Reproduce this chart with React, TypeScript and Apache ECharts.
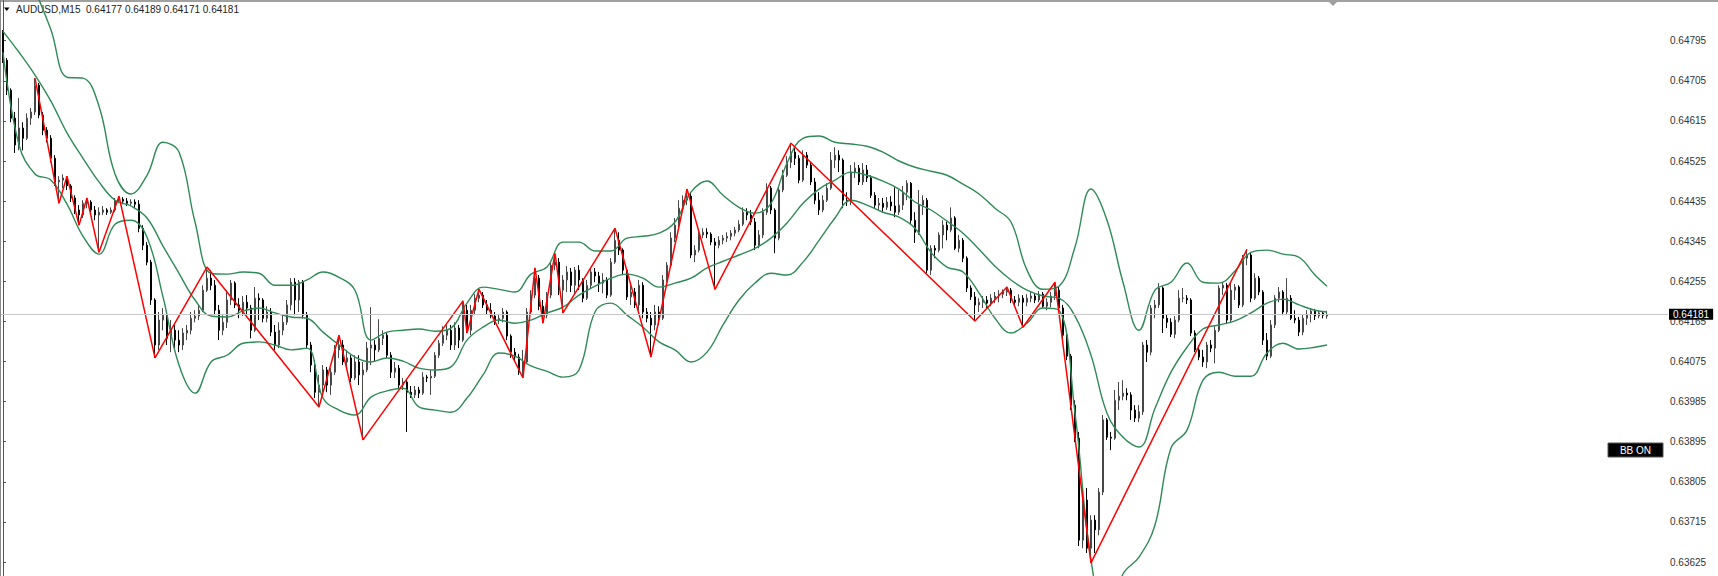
import React, { useEffect, useRef } from "react";
import * as echarts from "echarts";

const symbolTitle = "AUDUSD,M15";
const lastQuote = [0.64177, 0.64189, 0.64171, 0.64181];
const currentPrice = 0.64181;
const yTickStart = 0.63535;
const yTickStep = 0.0009;
const yMax = 0.64885;

const opens = [
0.64812,0.64751,0.64684,0.64621,0.64561,0.64599,0.64576,0.64621,0.64635,0.64695,
0.64628,0.64594,0.64576,0.64531,0.64478,0.64482,0.64487,0.64469,0.64442,0.64415,
0.64404,0.64430,0.64433,0.64415,0.64404,0.64410,0.64415,0.64410,0.64415,0.64437,
0.64439,0.64435,0.64430,0.64433,0.64428,0.64374,0.64336,0.64298,0.64213,0.64112,
0.64168,0.64179,0.64127,0.64145,0.64123,0.64112,0.64139,0.64145,0.64172,0.64177,
0.64190,0.64235,0.64262,0.64246,0.64190,0.64145,0.64163,0.64213,0.64251,0.64202,
0.64190,0.64208,0.64195,0.64145,0.64217,0.64213,0.64172,0.64186,0.64141,0.64112,
0.64145,0.64163,0.64202,0.64253,0.64213,0.64253,0.64179,0.64112,0.64067,0.64006,
0.64022,0.64056,0.64022,0.64051,0.64101,0.64112,0.64074,0.64083,0.64038,0.64074,
0.64045,0.64056,0.64105,0.64112,0.64101,0.64127,0.64134,0.64089,0.64051,0.64060,
0.64022,0.64029,0.64006,0.64000,0.64011,0.64004,0.64040,0.64038,0.64042,0.64089,
0.64116,0.64134,0.64145,0.64112,0.64150,0.64123,0.64190,0.64145,0.64190,0.64217,
0.64224,0.64202,0.64190,0.64177,0.64168,0.64172,0.64186,0.64132,0.64096,0.64085,
0.64051,0.64074,0.64186,0.64224,0.64262,0.64199,0.64179,0.64224,0.64291,0.64298,
0.64235,0.64258,0.64276,0.64246,0.64280,0.64258,0.64217,0.64246,0.64276,0.64267,
0.64251,0.64258,0.64224,0.64298,0.64347,0.64325,0.64280,0.64220,0.64231,0.64202,
0.64246,0.64186,0.64172,0.64157,0.64186,0.64172,0.64258,0.64291,0.64352,0.64381,
0.64419,0.64437,0.64446,0.64314,0.64325,0.64359,0.64365,0.64361,0.64343,0.64336,
0.64347,0.64352,0.64356,0.64363,0.64370,0.64383,0.64410,0.64404,0.64388,0.64336,
0.64359,0.64410,0.64464,0.64415,0.64352,0.64460,0.64493,0.64522,0.64545,0.64531,
0.64482,0.64538,0.64516,0.64478,0.64437,0.64415,0.64437,0.64464,0.64527,0.64538,
0.64527,0.64437,0.64433,0.64500,0.64509,0.64478,0.64505,0.64487,0.64448,0.64426,
0.64430,0.64421,0.64433,0.64424,0.64410,0.64426,0.64455,0.64475,0.64392,0.64365,
0.64426,0.64437,0.64280,0.64329,0.64325,0.64359,0.64381,0.64370,0.64397,0.64329,
0.64347,0.64307,0.64240,0.64220,0.64202,0.64208,0.64213,0.64206,0.64217,0.64222,
0.64226,0.64231,0.64235,0.64213,0.64208,0.64217,0.64208,0.64217,0.64222,0.64213,
0.64226,0.64199,0.64208,0.64222,0.64235,0.64195,0.64134,0.64087,0.63977,0.63903,
0.63674,0.63764,0.63656,0.63719,0.63697,0.63782,0.63944,0.63905,0.63903,0.63988,
0.63997,0.64004,0.64000,0.63966,0.63948,0.63962,0.64112,0.64096,0.64195,0.64202,
0.64240,0.64172,0.64163,0.64136,0.64168,0.64217,0.64217,0.64213,0.64139,0.64101,
0.64085,0.64074,0.64112,0.64105,0.64145,0.64240,0.64246,0.64168,0.64235,0.64242,
0.64202,0.64307,0.64314,0.64217,0.64262,0.64231,0.64123,0.64087,0.64157,0.64217,
0.64231,0.64186,0.64217,0.64172,0.64168,0.64141,0.64172,0.64181,0.64188,0.64177,
0.64184,0.64177];

const highs = [
0.64819,0.64756,0.64688,0.64635,0.64666,0.64612,0.64632,0.64644,0.64711,0.64700,
0.64635,0.64601,0.64583,0.64538,0.64491,0.64495,0.64491,0.64473,0.64448,0.64426,
0.64437,0.64442,0.64437,0.64424,0.64421,0.64424,0.64419,0.64421,0.64442,0.64446,
0.64444,0.64442,0.64439,0.64439,0.64437,0.64381,0.64343,0.64303,0.64217,0.64186,
0.64195,0.64190,0.64168,0.64157,0.64145,0.64150,0.64157,0.64186,0.64190,0.64202,
0.64246,0.64287,0.64280,0.64258,0.64202,0.64179,0.64235,0.64258,0.64255,0.64217,
0.64222,0.64224,0.64202,0.64242,0.64228,0.64217,0.64199,0.64195,0.64157,0.64163,
0.64179,0.64213,0.64262,0.64262,0.64258,0.64258,0.64186,0.64119,0.64078,0.64045,
0.64067,0.64063,0.64060,0.64112,0.64134,0.64123,0.64101,0.64089,0.64089,0.64089,
0.64074,0.64119,0.64197,0.64123,0.64170,0.64145,0.64141,0.64096,0.64074,0.64067,
0.64038,0.64033,0.64020,0.64020,0.64018,0.64051,0.64045,0.64056,0.64096,0.64123,
0.64154,0.64157,0.64157,0.64163,0.64157,0.64211,0.64202,0.64202,0.64226,0.64237,
0.64231,0.64213,0.64206,0.64186,0.64181,0.64195,0.64190,0.64136,0.64105,0.64092,
0.64101,0.64195,0.64235,0.64285,0.64269,0.64213,0.64231,0.64298,0.64318,0.64307,
0.64269,0.64289,0.64285,0.64287,0.64291,0.64262,0.64258,0.64285,0.64285,0.64276,
0.64273,0.64264,0.64307,0.64374,0.64365,0.64329,0.64285,0.64246,0.64240,0.64258,
0.64253,0.64195,0.64186,0.64202,0.64199,0.64269,0.64298,0.64365,0.64397,0.64437,
0.64448,0.64462,0.64455,0.64336,0.64365,0.64374,0.64374,0.64365,0.64352,0.64356,
0.64359,0.64365,0.64370,0.64377,0.64392,0.64421,0.64419,0.64415,0.64397,0.64370,
0.64419,0.64475,0.64469,0.64419,0.64469,0.64505,0.64536,0.64565,0.64554,0.64538,
0.64549,0.64545,0.64522,0.64487,0.64455,0.64448,0.64475,0.64545,0.64556,0.64549,
0.64531,0.64455,0.64516,0.64522,0.64516,0.64520,0.64516,0.64493,0.64455,0.64442,
0.64442,0.64444,0.64446,0.64466,0.64460,0.64469,0.64482,0.64478,0.64410,0.64460,
0.64448,0.64442,0.64336,0.64336,0.64365,0.64392,0.64388,0.64421,0.64401,0.64359,
0.64352,0.64311,0.64246,0.64231,0.64217,0.64222,0.64222,0.64226,0.64231,0.64235,
0.64237,0.64242,0.64240,0.64222,0.64226,0.64224,0.64226,0.64231,0.64228,0.64233,
0.64231,0.64217,0.64231,0.64253,0.64244,0.64202,0.64141,0.64092,0.63988,0.63917,
0.63786,0.63791,0.63730,0.63730,0.63791,0.63955,0.63948,0.63917,0.64011,0.64029,
0.64033,0.64015,0.64006,0.63977,0.63977,0.64119,0.64123,0.64202,0.64213,0.64251,
0.64244,0.64181,0.64172,0.64177,0.64235,0.64240,0.64224,0.64217,0.64145,0.64112,
0.64101,0.64119,0.64123,0.64154,0.64246,0.64253,0.64251,0.64251,0.64249,0.64246,
0.64314,0.64327,0.64320,0.64273,0.64267,0.64235,0.64139,0.64168,0.64224,0.64242,
0.64235,0.64262,0.64224,0.64190,0.64175,0.64181,0.64190,0.64195,0.64193,0.64190,
0.64188,0.64189];

const lows = [
0.64745,0.64673,0.64612,0.64543,0.64549,0.64549,0.64572,0.64606,0.64628,0.64621,
0.64583,0.64567,0.64522,0.64469,0.64430,0.64464,0.64460,0.64433,0.64406,0.64381,
0.64397,0.64419,0.64406,0.64392,0.64320,0.64404,0.64404,0.64406,0.64410,0.64430,
0.64428,0.64424,0.64424,0.64419,0.64365,0.64325,0.64291,0.64202,0.64083,0.64101,
0.64145,0.64112,0.64096,0.64105,0.64096,0.64101,0.64123,0.64136,0.64163,0.64168,
0.64186,0.64231,0.64235,0.64179,0.64123,0.64134,0.64150,0.64202,0.64195,0.64172,
0.64177,0.64179,0.64127,0.64141,0.64168,0.64163,0.64163,0.64132,0.64101,0.64105,
0.64134,0.64157,0.64190,0.64179,0.64186,0.64172,0.64105,0.64051,0.63993,0.63973,
0.64006,0.64006,0.64000,0.64045,0.64083,0.64067,0.64060,0.64029,0.64033,0.64022,
0.63899,0.64051,0.64067,0.64074,0.64096,0.64112,0.64083,0.64038,0.64038,0.64015,
0.64011,0.63917,0.63993,0.63993,0.63993,0.64000,0.64029,0.64000,0.64038,0.64083,
0.64110,0.64123,0.64101,0.64101,0.64105,0.64119,0.64139,0.64134,0.64179,0.64208,
0.64195,0.64181,0.64172,0.64157,0.64159,0.64163,0.64123,0.64083,0.64074,0.64045,
0.64038,0.64069,0.64181,0.64217,0.64190,0.64161,0.64172,0.64217,0.64280,0.64224,
0.64184,0.64231,0.64231,0.64228,0.64235,0.64208,0.64213,0.64240,0.64253,0.64231,
0.64228,0.64217,0.64220,0.64294,0.64314,0.64269,0.64213,0.64202,0.64195,0.64190,
0.64172,0.64163,0.64085,0.64145,0.64157,0.64168,0.64253,0.64285,0.64343,0.64374,
0.64410,0.64426,0.64307,0.64298,0.64320,0.64352,0.64352,0.64336,0.64237,0.64329,
0.64338,0.64343,0.64347,0.64356,0.64365,0.64379,0.64392,0.64381,0.64325,0.64329,
0.64352,0.64404,0.64406,0.64318,0.64347,0.64455,0.64489,0.64509,0.64516,0.64475,
0.64478,0.64509,0.64471,0.64428,0.64404,0.64410,0.64433,0.64460,0.64509,0.64500,
0.64419,0.64424,0.64426,0.64487,0.64471,0.64471,0.64478,0.64442,0.64419,0.64415,
0.64410,0.64415,0.64413,0.64399,0.64404,0.64415,0.64437,0.64383,0.64341,0.64359,
0.64404,0.64273,0.64269,0.64307,0.64320,0.64329,0.64347,0.64365,0.64325,0.64320,
0.64298,0.64231,0.64213,0.64166,0.64186,0.64195,0.64195,0.64199,0.64206,0.64208,
0.64217,0.64222,0.64206,0.64197,0.64199,0.64152,0.64199,0.64208,0.64206,0.64208,
0.64195,0.64190,0.64197,0.64213,0.64188,0.64127,0.64078,0.63966,0.63894,0.63661,
0.63656,0.63645,0.63623,0.63645,0.63685,0.63775,0.63899,0.63876,0.63899,0.63966,
0.63988,0.63988,0.63944,0.63939,0.63939,0.63955,0.64074,0.64089,0.64172,0.64195,
0.64139,0.64150,0.64130,0.64127,0.64163,0.64208,0.64204,0.64132,0.64096,0.64078,
0.64063,0.64060,0.64096,0.64071,0.64141,0.64224,0.64159,0.64163,0.64213,0.64195,
0.64197,0.64291,0.64208,0.64213,0.64224,0.64112,0.64078,0.64083,0.64150,0.64208,
0.64179,0.64181,0.64168,0.64161,0.64132,0.64134,0.64157,0.64163,0.64168,0.64172,
0.64172,0.64171];

const closes = [
0.64751,0.64684,0.64621,0.64561,0.64599,0.64576,0.64621,0.64635,0.64695,0.64628,
0.64594,0.64576,0.64531,0.64478,0.64482,0.64487,0.64469,0.64442,0.64415,0.64404,
0.64430,0.64433,0.64415,0.64404,0.64410,0.64415,0.64410,0.64415,0.64437,0.64439,
0.64435,0.64430,0.64433,0.64428,0.64374,0.64336,0.64298,0.64213,0.64112,0.64168,
0.64179,0.64127,0.64145,0.64123,0.64112,0.64139,0.64145,0.64172,0.64177,0.64190,
0.64235,0.64262,0.64246,0.64190,0.64145,0.64163,0.64213,0.64251,0.64202,0.64190,
0.64208,0.64195,0.64145,0.64217,0.64213,0.64172,0.64186,0.64141,0.64112,0.64145,
0.64163,0.64202,0.64253,0.64213,0.64253,0.64179,0.64112,0.64067,0.64006,0.64022,
0.64056,0.64022,0.64051,0.64101,0.64112,0.64074,0.64083,0.64038,0.64074,0.64045,
0.64056,0.64105,0.64112,0.64101,0.64127,0.64134,0.64089,0.64051,0.64060,0.64022,
0.64029,0.64006,0.64000,0.64011,0.64004,0.64040,0.64038,0.64042,0.64089,0.64116,
0.64134,0.64145,0.64112,0.64150,0.64123,0.64190,0.64145,0.64190,0.64217,0.64224,
0.64202,0.64190,0.64177,0.64168,0.64172,0.64186,0.64132,0.64096,0.64085,0.64051,
0.64074,0.64186,0.64224,0.64262,0.64199,0.64179,0.64224,0.64291,0.64298,0.64235,
0.64258,0.64276,0.64246,0.64280,0.64258,0.64217,0.64246,0.64276,0.64267,0.64251,
0.64258,0.64224,0.64298,0.64347,0.64325,0.64280,0.64220,0.64231,0.64202,0.64246,
0.64186,0.64172,0.64157,0.64186,0.64172,0.64258,0.64291,0.64352,0.64381,0.64419,
0.64437,0.64446,0.64314,0.64325,0.64359,0.64365,0.64361,0.64343,0.64336,0.64347,
0.64352,0.64356,0.64363,0.64370,0.64383,0.64410,0.64404,0.64388,0.64336,0.64359,
0.64410,0.64464,0.64415,0.64352,0.64460,0.64493,0.64522,0.64545,0.64531,0.64482,
0.64538,0.64516,0.64478,0.64437,0.64415,0.64437,0.64464,0.64527,0.64538,0.64527,
0.64437,0.64433,0.64500,0.64509,0.64478,0.64505,0.64487,0.64448,0.64426,0.64430,
0.64421,0.64433,0.64424,0.64410,0.64426,0.64455,0.64475,0.64392,0.64365,0.64426,
0.64437,0.64280,0.64329,0.64325,0.64359,0.64381,0.64370,0.64397,0.64329,0.64347,
0.64307,0.64240,0.64220,0.64202,0.64208,0.64213,0.64206,0.64217,0.64222,0.64226,
0.64231,0.64235,0.64213,0.64208,0.64217,0.64208,0.64217,0.64222,0.64213,0.64226,
0.64199,0.64208,0.64222,0.64235,0.64195,0.64134,0.64087,0.63977,0.63903,0.63674,
0.63764,0.63656,0.63719,0.63697,0.63782,0.63944,0.63905,0.63903,0.63988,0.63997,
0.64004,0.64000,0.63966,0.63948,0.63962,0.64112,0.64096,0.64195,0.64202,0.64240,
0.64172,0.64163,0.64136,0.64168,0.64217,0.64217,0.64213,0.64139,0.64101,0.64085,
0.64074,0.64112,0.64105,0.64145,0.64240,0.64246,0.64168,0.64235,0.64242,0.64202,
0.64307,0.64314,0.64217,0.64262,0.64231,0.64123,0.64087,0.64157,0.64217,0.64231,
0.64186,0.64217,0.64172,0.64168,0.64141,0.64172,0.64181,0.64188,0.64177,0.64184,
0.64179,0.64181];

// Bollinger band samples: bar index and band values
const bandIdx = [
0,4,8,12,16,20,24,28,32,36,40,44,48,52,56,60,64,68,72,76,
80,84,88,92,96,100,104,108,112,116,120,124,128,132,136,140,144,148,152,156,
160,164,168,172,176,180,184,188,192,196,200,204,208,212,216,220,224,228,232,236,
240,244,248,252,256,260,264,268,272,276,280,284,288,292,296,300,304,308,312,316,
320,324,328,331];

const bbUpper = [
0.65066,0.64987,0.64908,0.64819,0.64713,0.64711,0.64648,0.64496,0.64451,0.64493,
0.64567,0.64545,0.64388,0.64273,0.64271,0.64276,0.64273,0.64246,0.64246,0.64258,
0.64276,0.64264,0.64235,0.64123,0.64141,0.64145,0.64148,0.64143,0.64150,0.64206,
0.64242,0.64237,0.64231,0.64271,0.64287,0.64343,0.64343,0.64323,0.64323,0.64352,
0.64356,0.64363,0.64388,0.64455,0.64480,0.64448,0.64421,0.64408,0.64430,0.64520,
0.64576,0.64581,0.64567,0.64563,0.64558,0.64545,0.64525,0.64511,0.64502,0.64493,
0.64473,0.64451,0.64419,0.64388,0.64280,0.64237,0.64244,0.64332,0.64462,0.64392,
0.64253,0.64145,0.64235,0.64253,0.64296,0.64253,0.64251,0.64278,0.64320,0.64325,
0.64316,0.64309,0.64269,0.64244];

const bbMiddle = [
0.64816,0.64769,0.64718,0.64659,0.64588,0.64531,0.64478,0.64437,0.64424,0.64397,
0.64334,0.64273,0.64213,0.64177,0.64175,0.64188,0.64195,0.64184,0.64175,0.64172,
0.64141,0.64112,0.64085,0.64074,0.64083,0.64076,0.64060,0.64056,0.64063,0.64123,
0.64152,0.64168,0.64161,0.64168,0.64184,0.64197,0.64224,0.64244,0.64262,0.64271,
0.64262,0.64242,0.64251,0.64262,0.64285,0.64300,0.64314,0.64329,0.64352,0.64386,
0.64430,0.64462,0.64482,0.64500,0.64493,0.64480,0.64462,0.64433,0.64415,0.64390,
0.64363,0.64327,0.64289,0.64258,0.64235,0.64222,0.64217,0.64177,0.64089,0.63959,
0.63905,0.63883,0.63970,0.64051,0.64107,0.64148,0.64157,0.64166,0.64184,0.64206,
0.64215,0.64202,0.64190,0.64186];

const bbLower = [
0.64769,0.64561,0.64496,0.64482,0.64428,0.64356,0.64316,0.64383,0.64392,0.64354,
0.64220,0.64067,0.64004,0.64074,0.64089,0.64116,0.64119,0.64112,0.64101,0.64105,
0.63993,0.63966,0.63955,0.63995,0.64009,0.64015,0.63973,0.63966,0.63961,0.63993,
0.64045,0.64094,0.64087,0.64065,0.64053,0.64040,0.64056,0.64186,0.64206,0.64179,
0.64152,0.64119,0.64101,0.64074,0.64096,0.64157,0.64213,0.64251,0.64273,0.64269,
0.64298,0.64347,0.64397,0.64437,0.64426,0.64410,0.64399,0.64374,0.64320,0.64287,
0.64276,0.64229,0.64172,0.64139,0.64161,0.64195,0.64190,0.63959,0.63629,0.63495,
0.63598,0.63636,0.63708,0.63881,0.63921,0.64033,0.64051,0.64042,0.64042,0.64094,
0.64116,0.64103,0.64107,0.64112];

// ZigZag turning bars (alternating high / low, starting with a high)
const zigIdx = [8,14,16,19,21,24,29,38,51,79,84,90,115,116,119,130,133,135,138,140,153,162,171,178,197,243,251,255,263,272,311];

const FONT = "'Liberation Sans', Arial, sans-serif";

export default function App() {
  const ref = useRef<HTMLDivElement>(null);
  useEffect(() => {
    if (!ref.current) return;
    const chart = echarts.init(ref.current, null, { renderer: "svg" });
    const candles = opens.map((o, i) => [i, o, closes[i], lows[i], highs[i]]);
    const band = (arr: number[]) => bandIdx.map((x, k) => [x, arr[k]]);
    const zig = zigIdx.map((x, k) => [x, k % 2 === 0 ? highs[x] : lows[x]]);
    const bandStyle = { color: "#2e8b57", width: 1.4 };
    chart.setOption({
      animation: false,
      backgroundColor: "#ffffff",
      grid: { left: 1, right: 50, top: 0.6, height: 601.5 },
      xAxis: { type: "value", min: -0.5, max: 416.25, show: false, splitLine: { show: false } },
      yAxis: {
        type: "value",
        position: "right",
        min: yTickStart,
        max: yMax,
        interval: yTickStep,
        axisLine: { show: true, lineStyle: { color: "#555555", width: 1 } },
        axisTick: { show: true, length: 3, inside: false, lineStyle: { color: "#555555" } },
        axisLabel: {
          margin: 2,
          color: "#333333",
          fontSize: 10,
          fontFamily: FONT,
          showMaxLabel: false,
          showMinLabel: false,
          formatter: (v: number) => v.toFixed(5),
        },
        splitLine: { show: false },
      },
      series: [
        {
          type: "line",
          data: [],
          symbol: "none",
          silent: true,
          z: 1,
          markLine: {
            silent: true,
            symbol: ["none", "none"],
            precision: 5,
            animation: false,
            data: [{ yAxis: currentPrice }],
            lineStyle: { color: "#c8c8c8", width: 1, type: "solid" },
            label: {
              show: true,
              position: "end",
              distance: 1,
              formatter: () => currentPrice.toFixed(5),
              backgroundColor: "#000000",
              color: "#ffffff",
              fontSize: 10,
              fontFamily: FONT,
              padding: [1, 4, 0, 4],
            },
          },
        },
        {
          type: "candlestick",
          data: candles,
          barWidth: 2,
          z: 2,
          silent: true,
          itemStyle: { color: "#969696", color0: "#000000", borderColor: "#474747", borderColor0: "#000000", borderWidth: 1 },
        },
        { type: "line", data: band(bbUpper), symbol: "none", smooth: 0.4, silent: true, z: 3, lineStyle: bandStyle },
        { type: "line", data: band(bbMiddle), symbol: "none", smooth: 0.4, silent: true, z: 3, lineStyle: bandStyle },
        { type: "line", data: band(bbLower), symbol: "none", smooth: 0.4, silent: true, z: 3, lineStyle: bandStyle },
        { type: "line", data: zig, symbol: "none", silent: true, z: 4, lineStyle: { color: "#ff0000", width: 1.5 } },
      ],
      graphic: [
        { type: "rect", shape: { x: 0, y: 0, width: 1718, height: 2 }, style: { fill: "#a0a0a0" }, silent: true },
        { type: "rect", shape: { x: 0, y: 0, width: 1, height: 576 }, style: { fill: "#8a8a8a" }, silent: true },
        { type: "polygon", shape: { points: [[1329, 2], [1337, 2], [1333, 6]] }, style: { fill: "#a0a0a0" }, silent: true },
        { type: "polygon", shape: { points: [[4, 7.5], [9.5, 7.5], [6.75, 11]] }, style: { fill: "#000000" }, silent: true },
        {
          type: "text",
          x: 16,
          y: 9,
          style: {
            text: symbolTitle + "  " + lastQuote.map((v) => v.toFixed(5)).join(" "),
            fill: "#222222",
            font: "10px " + FONT,
            verticalAlign: "middle",
          },
          silent: true,
        },
        {
          type: "group",
          x: 1608,
          y: 443,
          silent: true,
          children: [
            { type: "rect", shape: { x: 0, y: 0, width: 55, height: 14 }, style: { fill: "#000000", stroke: "#555555", lineWidth: 1 } },
            { type: "text", x: 27.5, y: 7.5, style: { text: "BB ON", fill: "#ffffff", font: "10px " + FONT, align: "center", verticalAlign: "middle" } },
          ],
        },
      ],
    });
    return () => chart.dispose();
  }, []);
  return (
    <div style={{ position: "fixed", left: 0, top: 0, width: 1718, height: 576, overflow: "hidden", background: "#fff" }}>
      <div ref={ref} style={{ width: 1718, height: 610 }} />
    </div>
  );
}
